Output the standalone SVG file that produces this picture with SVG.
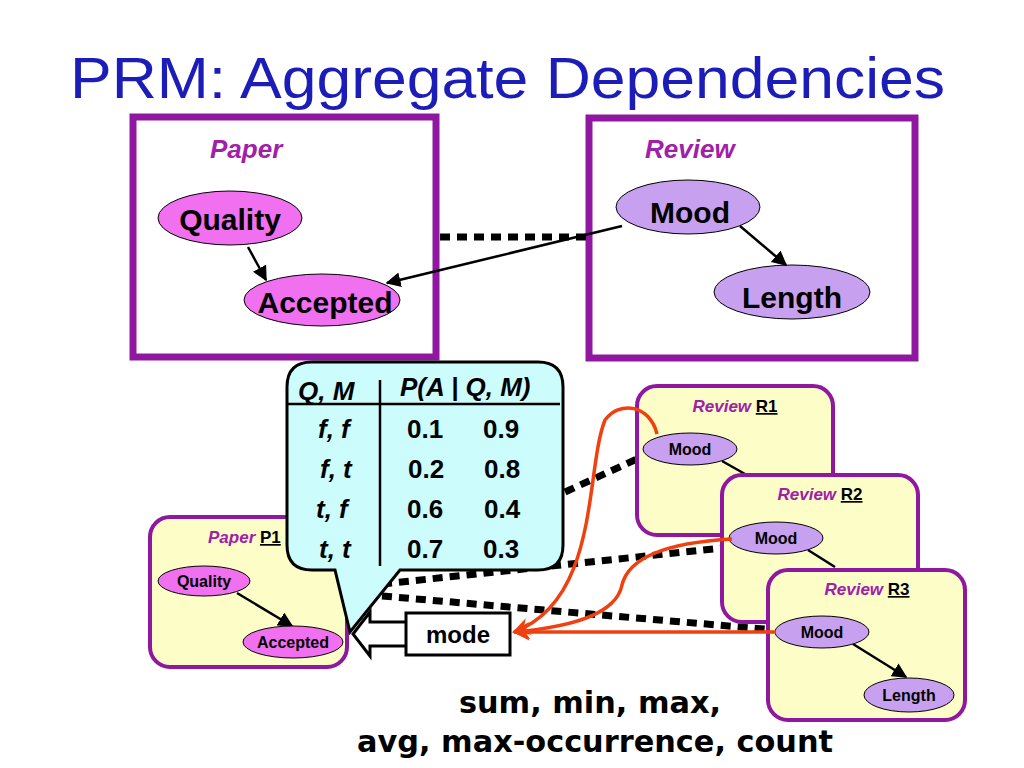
<svg xmlns="http://www.w3.org/2000/svg" width="1024" height="768" viewBox="0 0 1024 768">
<defs>
<marker id="ah" viewBox="0 0 10 10" refX="9" refY="5" markerWidth="6" markerHeight="6" orient="auto"><path d="M0,0 L10,5 L0,10 z" fill="#000"/></marker>
<marker id="ahr" viewBox="0 0 10 10" refX="9" refY="5" markerWidth="5" markerHeight="5" orient="auto"><path d="M0,0 L10,5 L0,10 L3,5 z" fill="#f04010"/></marker>
<style>
.t{font-family:"Liberation Sans",Arial,sans-serif;font-weight:bold}
.cls{font-family:"Liberation Sans",Arial,sans-serif;font-weight:bold;font-style:italic;fill:#a020a8}
.big{fill:#fff;stroke:#9018a0;stroke-width:7}
.sm{fill:#fdfdc8;stroke:#9018a0;stroke-width:4}
.pk{fill:#f070f0;stroke:#000;stroke-width:1}
.lv{fill:#c8a0f0;stroke:#000;stroke-width:1}
.dot{stroke:#000;stroke-width:7;stroke-dasharray:10 7;fill:none}
.ar{stroke:#000;stroke-width:2.5;fill:none;marker-end:url(#ah)}
.or{stroke:#f04010;stroke-width:3.5;fill:none;marker-end:url(#ahr)}
.tb{font-family:"Liberation Sans",Arial,sans-serif;font-weight:bold;font-size:26px}
</style>
</defs>
<text x="70" y="98" textLength="875" lengthAdjust="spacingAndGlyphs" font-family="Liberation Sans,Arial,sans-serif" font-size="58" fill="#1c1cb8">PRM: Aggregate Dependencies</text>

<g id="paper"><rect class="big" x="133" y="117" width="303" height="240"/><text class="cls" x="210" y="158" font-size="26">Paper</text>
<g id="quality"><ellipse class="pk" cx="230" cy="218" rx="72" ry="27"/><text class="t" x="230" y="230" font-size="30" text-anchor="middle">Quality</text></g>
<g id="accepted"><ellipse class="pk" cx="322" cy="300" rx="78" ry="26"/><text class="t" x="325" y="313" font-size="30" text-anchor="middle">Accepted</text></g></g>
<g id="review"><rect class="big" x="589" y="118" width="326" height="240"/><text class="cls" x="645" y="158" font-size="26">Review</text>
<g id="mood"><ellipse class="lv" cx="688" cy="207" rx="72" ry="27"/><text class="t" x="690" y="223" font-size="30" text-anchor="middle">Mood</text></g>
<g id="length"><ellipse class="lv" cx="792" cy="292" rx="78" ry="27"/><text class="t" x="792" y="308" font-size="30" text-anchor="middle">Length</text></g></g>

<g id="connectors-top">
<line class="dot" x1="440" y1="237" x2="586" y2="237" stroke-width="9"/>
<line class="ar" x1="622" y1="226" x2="387" y2="283"/>
<line class="ar" x1="248" y1="247" x2="266" y2="280"/>
<line class="ar" x1="740" y1="226" x2="786" y2="265"/>
</g>

<g id="connectors-bottom">
<line class="dot" x1="565" y1="492" x2="637" y2="459"/>
<line class="dot" x1="382" y1="584" x2="722" y2="548"/>
<line class="dot" x1="382" y1="596" x2="775" y2="630"/>
</g>

<g id="p1"><rect class="sm" x="150" y="517" width="197" height="150" rx="20"/><text class="cls" x="208" y="543" font-size="17">Paper <tspan fill="#000" font-style="normal" text-decoration="underline">P1</tspan></text>
<line class="ar" x1="237" y1="593" x2="292" y2="626"/>
<ellipse class="pk" cx="204" cy="581" rx="46" ry="15"/><text class="t" x="204" y="587" font-size="16" text-anchor="middle">Quality</text>
<ellipse class="pk" cx="293" cy="642" rx="50" ry="16"/><text class="t" x="293" y="648" font-size="16" text-anchor="middle">Accepted</text></g>

<g id="r1"><rect class="sm" x="637" y="386" width="196" height="149" rx="20"/><text class="cls" x="735" y="412" font-size="17" text-anchor="middle">Review <tspan fill="#000" font-style="normal" text-decoration="underline">R1</tspan></text>
<line x1="722" y1="461" x2="745" y2="474" stroke="#000" stroke-width="2.5"/>
<ellipse class="lv" cx="690" cy="449" rx="47" ry="16"/><text class="t" x="690" y="455" font-size="16" text-anchor="middle">Mood</text></g>
<g id="r2"><rect class="sm" x="722" y="475" width="196" height="147" rx="20"/><text class="cls" x="820" y="500" font-size="17" text-anchor="middle">Review <tspan fill="#000" font-style="normal" text-decoration="underline">R2</tspan></text>
<line x1="808" y1="550" x2="835" y2="567" stroke="#000" stroke-width="2.5"/>
<ellipse class="lv" cx="776" cy="538" rx="47" ry="16"/><text class="t" x="776" y="544" font-size="16" text-anchor="middle">Mood</text></g>
<g id="r3"><rect class="sm" x="768" y="570" width="197" height="150" rx="20"/><text class="cls" x="867" y="595" font-size="17" text-anchor="middle">Review <tspan fill="#000" font-style="normal" text-decoration="underline">R3</tspan></text>
<line class="ar" x1="853" y1="644" x2="906" y2="677"/>
<ellipse class="lv" cx="822" cy="632" rx="47" ry="16"/><text class="t" x="822" y="638" font-size="16" text-anchor="middle">Mood</text>
<ellipse class="lv" cx="909" cy="695" rx="45" ry="17"/><text class="t" x="909" y="701" font-size="16" text-anchor="middle">Length</text></g>

<g id="cpd">
<path d="M312,362 H538 Q563,362 563,387 V545 Q563,570 538,570 H400 L350,632 L335,570 H312 Q287,570 287,545 V387 Q287,362 312,362 Z" fill="#ccfcfc" stroke="#000" stroke-width="3"/>
<line x1="380" y1="380" x2="380" y2="566" stroke="#000" stroke-width="2.5"/>
<line x1="288" y1="404" x2="560" y2="404" stroke="#000" stroke-width="2.5"/>
<text class="tb" x="298" y="400" font-style="italic" font-size="24">Q, M</text>
<text class="tb" x="400" y="396" font-style="italic" font-size="24">P(A | Q, M)</text>
<g font-style="italic"><text class="tb" x="318" y="438">f, f</text><text class="tb" x="320" y="478">f, t</text><text class="tb" x="316" y="518">t, f</text><text class="tb" x="319" y="558">t, t</text></g>
<text class="tb" x="407" y="438">0.1</text><text class="tb" x="483" y="438">0.9</text>
<text class="tb" x="408" y="478">0.2</text><text class="tb" x="484" y="478">0.8</text>
<text class="tb" x="407" y="518">0.6</text><text class="tb" x="484" y="518">0.4</text>
<text class="tb" x="407" y="558">0.7</text><text class="tb" x="483" y="558">0.3</text>
</g>

<g id="mode">
<polygon points="408,622 370,622 370,612 353,634 370,656 370,646 408,646" fill="#fff" stroke="#000" stroke-width="3"/>
<rect x="406" y="613" width="104" height="42" fill="#fff" stroke="#000" stroke-width="3"/>
<text class="t" x="458" y="643" font-size="24" text-anchor="middle" font-family="DejaVu Sans,sans-serif">mode</text>
</g>

<g id="connectors-agg">
<path class="or" d="M657,434 C650,405 620,400 605,420 C585,470 600,600 514,632"/>
<path class="or" d="M732,539 C660,543 628,560 622,585 C616,615 570,627 514,632"/>
<path class="or" d="M776,632 L514,632"/>
</g>

<text x="590" y="713" text-anchor="middle" textLength="262" lengthAdjust="spacingAndGlyphs" font-family="DejaVu Sans,sans-serif" font-weight="bold" font-size="31">sum, min, max,</text>
<text x="595" y="752" text-anchor="middle" textLength="476" lengthAdjust="spacingAndGlyphs" font-family="DejaVu Sans,sans-serif" font-weight="bold" font-size="31">avg, max-occurrence, count</text>
</svg>
